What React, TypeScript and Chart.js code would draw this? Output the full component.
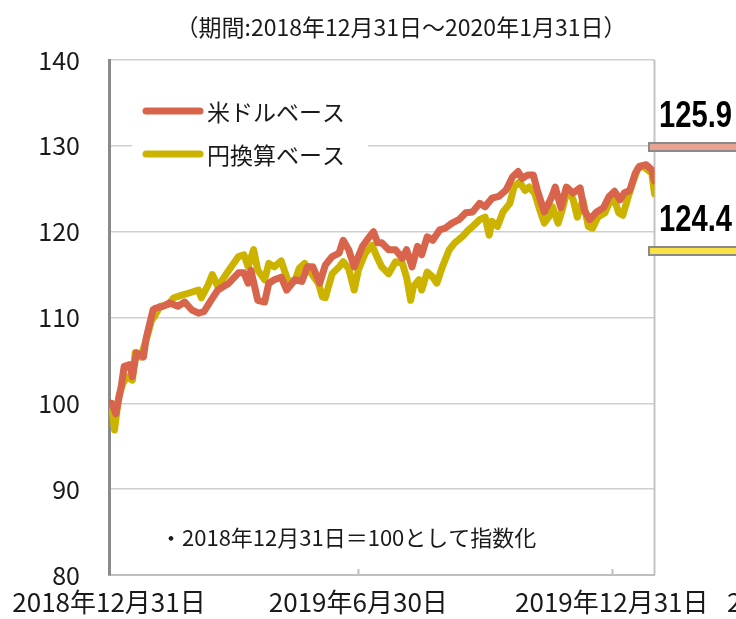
import React, { useEffect, useRef } from 'react';
import { Chart, registerables } from 'chart.js';

Chart.register(...registerables);

const FONT = '"Noto Sans CJK JP", "Noto Sans CJK SC", sans-serif';

const titleText = '（期間:2018年12月31日～2020年1月31日）';
const noteText = '・2018年12月31日＝100として指数化';
const seriesNames = ['米ドルベース', '円換算ベース'];
const seriesColors = ['#D8654B', '#CBB300'];
const lastValueLabels = ['125.9', '124.4'];
const labelBoxColors = ['#E8A393', '#F9E246'];
const xTickDays = [0, 181, 365];
const xTickLabels = ['2018年12月31日', '2019年6月30日', '2019年12月31日'];
const xOverflowLabel = '2020年6月30日';
const totalDays = 396;

// days elapsed since 2018-12-31
const usdDays = [0, 2, 5, 9, 11, 15, 17, 20, 25, 27, 32, 34, 39, 44, 50, 55, 60, 65, 69, 74, 79, 87, 94, 98, 101, 103, 108, 113, 116, 120, 125, 129, 135, 140, 144, 148, 153, 157, 162, 167, 170, 174, 178, 184, 189, 192, 195, 198, 203, 208, 213, 216, 220, 224, 227, 231, 235, 240, 244, 249, 254, 259, 264, 269, 273, 278, 283, 288, 293, 297, 300, 304, 308, 311, 316, 321, 324, 328, 332, 337, 342, 345, 349, 354, 359, 363, 367, 371, 374, 378, 382, 385, 390, 394, 396];
const usdValues = [100.0, 100.0, 98.8, 102.1, 104.3, 104.5, 103.1, 105.9, 105.4, 107.6, 110.9, 111.1, 111.3, 111.7, 111.3, 111.8, 110.9, 110.5, 110.7, 112.0, 113.2, 114.0, 115.2, 115.2, 114.0, 115.5, 112.0, 111.8, 114.0, 114.4, 114.7, 113.2, 114.4, 114.2, 115.9, 115.9, 114.0, 116.1, 117.1, 117.5, 119.0, 117.9, 115.9, 118.3, 119.4, 120.0, 118.7, 118.7, 117.9, 117.9, 116.9, 117.9, 115.9, 118.3, 117.3, 119.4, 119.0, 120.2, 120.4, 121.0, 121.4, 122.2, 122.3, 123.3, 122.9, 123.9, 124.1, 124.8, 126.4, 127.0, 126.2, 126.6, 126.6, 124.8, 122.3, 123.9, 125.2, 122.8, 125.2, 124.5, 125.1, 122.5, 121.4, 122.3, 122.8, 124.1, 124.7, 123.7, 124.5, 124.8, 126.8, 127.6, 127.8, 127.2, 125.9];

const jpyDays = [0, 2, 4, 7, 10, 13, 17, 19, 23, 27, 31, 33, 37, 43, 47, 53, 57, 65, 67, 72, 75, 79, 87, 94, 98, 101, 105, 108, 113, 116, 120, 125, 130, 135, 138, 142, 147, 152, 155, 157, 162, 167, 170, 174, 178, 181, 186, 191, 195, 198, 203, 208, 213, 216, 219, 221, 225, 227, 231, 235, 238, 242, 247, 251, 257, 261, 264, 269, 273, 276, 278, 282, 286, 291, 294, 298, 302, 305, 309, 312, 316, 320, 322, 326, 329, 333, 337, 340, 344, 348, 351, 355, 360, 363, 367, 370, 373, 377, 380, 384, 388, 391, 394, 396];
const jpyValues = [100.0, 99.5, 96.9, 100.7, 102.3, 103.1, 102.7, 105.9, 105.4, 107.4, 109.7, 110.1, 111.3, 111.5, 112.3, 112.6, 112.8, 113.2, 112.3, 113.8, 115.0, 113.6, 115.5, 117.1, 117.3, 115.9, 117.9, 115.5, 114.4, 116.3, 115.9, 116.6, 114.2, 114.3, 115.7, 116.3, 115.1, 114.0, 112.4, 112.3, 115.1, 115.9, 116.5, 115.7, 113.2, 115.5, 117.5, 118.4, 116.9, 115.9, 115.1, 116.5, 116.3, 114.7, 112.0, 113.6, 114.4, 113.2, 115.3, 114.7, 114.0, 115.9, 117.9, 118.7, 119.5, 120.2, 120.6, 121.4, 121.7, 119.6, 121.2, 120.6, 122.3, 123.3, 125.2, 125.8, 124.8, 125.2, 124.5, 122.9, 121.0, 121.9, 122.9, 121.0, 122.5, 125.1, 123.7, 121.7, 123.7, 120.6, 120.4, 121.7, 122.2, 123.3, 123.7, 122.2, 121.9, 124.1, 125.6, 127.4, 127.6, 127.2, 126.8, 124.4];

const X_LABEL_PAD = 12;

const decorPlugin = {
  id: 'decor',
  beforeDatasetsDraw(chart: any) {
    const { ctx, chartArea } = chart;
    const xs = chart.scales.x;
    ctx.save();
    ctx.strokeStyle = '#c4c4c4';
    ctx.lineWidth = 2;
    ctx.beginPath();
    ctx.moveTo(chartArea.right, chartArea.top);
    ctx.lineTo(chartArea.right, chartArea.bottom);
    ctx.stroke();
    ctx.strokeStyle = '#bfbfbf';
    for (const d of xTickDays.slice(1)) {
      const px = Math.round(xs.getPixelForValue(d)) + 0.5;
      ctx.beginPath();
      ctx.moveTo(px, chartArea.bottom);
      ctx.lineTo(px, chartArea.bottom - 6);
      ctx.stroke();
    }
    ctx.restore();
  },
  afterDraw(chart: any) {
    const { ctx, chartArea } = chart;
    const xs = chart.scales.x;
    ctx.save();
    ctx.fillStyle = '#1a1a1a';
    ctx.font = `23px ${FONT}`;
    ctx.textAlign = 'center';
    ctx.textBaseline = 'middle';
    ctx.fillText(titleText, 401, 27);
    ctx.font = `22px ${FONT}`;
    ctx.textAlign = 'left';
    ctx.fillText(noteText, 160, 538);
    ctx.font = `26px ${FONT}`;
    ctx.fillText(xOverflowLabel, 727, xs.top + X_LABEL_PAD + 15.6);
    ctx.fillStyle = '#ffffff';
    ctx.fillRect(132, 88, 236, 86);
    const rows = [111, 154];
    seriesNames.forEach((name, i) => {
      ctx.strokeStyle = seriesColors[i];
      ctx.lineWidth = 7;
      ctx.lineCap = 'round';
      ctx.beginPath();
      ctx.moveTo(146, rows[i]);
      ctx.lineTo(200, rows[i]);
      ctx.stroke();
      ctx.fillStyle = '#1a1a1a';
      ctx.font = `23px ${FONT}`;
      ctx.textAlign = 'left';
      ctx.textBaseline = 'middle';
      ctx.fillText(name, 207, rows[i] + 1);
    });
    const boxTops = [143, 247];
    const textMids = [117, 221];
    boxTops.forEach((top, i) => {
      ctx.fillStyle = labelBoxColors[i];
      ctx.strokeStyle = '#8a8a8a';
      ctx.lineWidth = 2;
      ctx.beginPath();
      ctx.rect(chartArea.right - 5.5, top, 100, 8);
      ctx.fill();
      ctx.stroke();
      ctx.save();
      ctx.font = `bold 37px "Liberation Sans", Arial, sans-serif`;
      const w = ctx.measureText(lastValueLabels[i]).width;
      ctx.translate(659, textMids[i]);
      ctx.scale(73 / w, 1);
      ctx.fillStyle = '#000000';
      ctx.textAlign = 'left';
      ctx.textBaseline = 'middle';
      ctx.fillText(lastValueLabels[i], 0, 0);
      ctx.restore();
    });
    ctx.restore();
  },
};

export default function App() {
  const ref = useRef<HTMLCanvasElement | null>(null);
  useEffect(() => {
    if (!ref.current) return;
    const chart = new Chart(ref.current, {
      type: 'line',
      data: {
        datasets: [
          {
            label: seriesNames[0],
            data: usdDays.map((d, i) => ({ x: d, y: usdValues[i] })),
            borderColor: seriesColors[0],
            borderWidth: 7,
            pointRadius: 0,
            tension: 0,
            borderJoinStyle: 'round',
            borderCapStyle: 'round',
          },
          {
            label: seriesNames[1],
            data: jpyDays.map((d, i) => ({ x: d, y: jpyValues[i] })),
            borderColor: seriesColors[1],
            borderWidth: 7,
            pointRadius: 0,
            tension: 0,
            borderJoinStyle: 'round',
            borderCapStyle: 'round',
          },
        ],
      },
      options: {
        animation: false,
        responsive: false,
        layout: { padding: { top: 60, right: 81.5, bottom: 0, left: 0 } },
        plugins: { legend: { display: false }, tooltip: { enabled: false }, title: { display: false } },
        scales: {
          x: {
            type: 'linear',
            min: 0,
            max: totalDays,
            afterBuildTicks: (s: any) => {
              s.ticks = xTickDays.map((v) => ({ value: v }));
            },
            afterFit: (s: any) => {
              s.height = 44;
            },
            ticks: {
              autoSkip: false,
              maxRotation: 0,
              minRotation: 0,
              padding: X_LABEL_PAD,
              color: '#1a1a1a',
              font: { family: FONT, size: 26 },
              callback: (v: any) => {
                const i = xTickDays.indexOf(Number(v));
                return i >= 0 ? xTickLabels[i] : '';
              },
            },
            grid: { display: false, drawTicks: false },
            border: { color: '#bfbfbf', width: 2 },
          },
          y: {
            min: 80,
            max: 140,
            afterFit: (s: any) => {
              s.width = 109;
            },
            ticks: {
              stepSize: 10,
              padding: 29,
              color: '#1a1a1a',
              font: { family: FONT, size: 25 },
            },
            grid: { color: '#cfcfcf', lineWidth: 1.5, drawTicks: false },
            border: { color: '#8a8a8a', width: 3 },
          },
        },
      },
      plugins: [decorPlugin],
    });
    return () => chart.destroy();
  }, []);
  return (
    <div style={{ position: 'fixed', left: 0, top: 0, width: 736, height: 619, background: '#fff' }}>
      <canvas ref={ref} width={736} height={619} style={{ width: 736, height: 619, display: 'block' }} />
    </div>
  );
}
